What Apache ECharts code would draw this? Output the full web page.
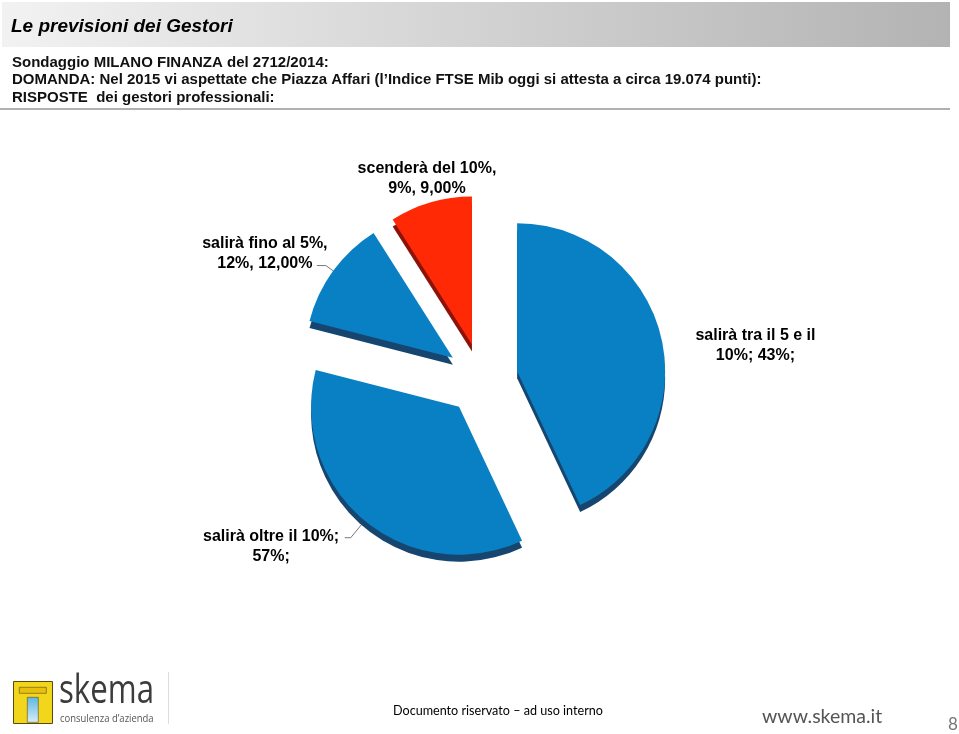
<!DOCTYPE html>
<html>
<head>
<meta charset="utf-8">
<script src="https://cdn.jsdelivr.net/npm/echarts@6/dist/echarts.min.js"></script>
<style>
html,body{margin:0;padding:0;background:#fff;}
#chart{width:959px;height:734px;}
</style>
</head>
<body>
<div id="chart"></div>
<script>
// ---- data ----
const categories = [
  "salirà tra il 5 e il 10%",
  "salirà oltre il 10%",
  "salirà fino al 5%",
  "scenderà del 10%"
];
const values = [43, 36, 12, 9];
const labelLines1 = ["salirà tra il 5 e il", "salirà oltre il 10%;", "salirà fino al 5%,", "scenderà del 10%,"];
const labelLines2 = ["10%; 43%;", "57%;", "12%, 12,00%", "9%, 9,00%"];
const titleText = "Le previsioni dei Gestori";
const headerLines = [
  "Sondaggio MILANO FINANZA del 2712/2014:",
  "DOMANDA: Nel 2015 vi aspettate che Piazza Affari (l\u2019Indice FTSE Mib oggi si attesta a circa 19.074 punti):",
  "RISPOSTE  dei gestori professionali:"
];

// ---- styles (label placement tuning) ----
const sliceColors = ['#0a80c4', '#0a80c4', '#0a80c4', '#ff2a05'];
const sideColors = ['#16466f', '#16466f', '#16466f', '#8c1309'];
const boxW = [130, 140, 130, 140];
const len1 = [5, 22, 9, 24];
const len2 = [20, 6, 9, 0];
const dist = [4, 3.6, -13, -73];
const pads = [[16, 0, 0, 0], [17, 0, 0, 0], [0, 0, 23, 0], [0, 0, 2, 0]];
const showLine = [false, true, true, false];

const chart = echarts.init(document.getElementById('chart'), null, {renderer: 'canvas'});

const data = categories.map((c, i) => ({
  name: c,
  value: values[i],
  selected: true,
  itemStyle: {
    color: sliceColors[i],
    shadowColor: sideColors[i],
    shadowBlur: 0,
    shadowOffsetX: 0,
    shadowOffsetY: 7
  },
  label: {
    formatter: '{a|' + labelLines1[i] + '}\n{a|' + labelLines2[i] + '}',
    distanceToLabelLine: dist[i],
    padding: pads[i],
    rich: {
      a: {
        width: boxW[i], align: 'center',
        fontFamily: '"Liberation Sans", Arial, sans-serif',
        fontWeight: 'bold', fontSize: 16, lineHeight: 20, color: '#000'
      }
    }
  },
  labelLine: {show: showLine[i], length: len1[i], length2: len2[i]}
}));

const graphics = [
  {
    type: 'rect', left: 2, top: 2, z: -1,
    shape: {width: 948, height: 45},
    style: {
      fill: new echarts.graphic.LinearGradient(0, 0, 1, 0, [
        {offset: 0, color: '#f2f2f2'},
        {offset: 1, color: '#b3b3b3'}
      ])
    }
  },
  {
    type: 'text', left: 11, top: 17,
    style: {text: titleText, font: 'italic bold 19px "Liberation Sans", Arial, sans-serif', fill: '#000'}
  },
  {
    type: 'rect', left: 0, top: 108,
    shape: {width: 950, height: 2},
    style: {fill: '#b0b0b0'}
  },
  // footer logo (simplified)
  {
    type: 'rect', left: 13, top: 681,
    shape: {width: 39, height: 42},
    style: {fill: '#f2d61c', stroke: '#5a4a10', lineWidth: 1}
  },
  {
    type: 'rect', left: 19, top: 687,
    shape: {width: 27, height: 6},
    style: {fill: '#e8c010', stroke: '#5a4a10', lineWidth: 0.6}
  },
  {
    type: 'rect', left: 27, top: 697,
    shape: {width: 11, height: 25},
    style: {
      fill: new echarts.graphic.LinearGradient(0, 0, 0, 1, [
        {offset: 0, color: '#5fb6e0'},
        {offset: 1, color: '#d8eef8'}
      ]),
      stroke: '#5a4a10', lineWidth: 0.6
    }
  },
  {
    type: 'text', x: 59, y: 672, scaleX: 0.78,
    style: {text: 'skema', font: '40px "Open Sans", sans-serif', fill: '#3c3c3c'}
  },
  {
    type: 'text', x: 60, y: 713, scaleX: 0.86,
    style: {text: 'consulenza d\u2019azienda', font: '11px "Open Sans", sans-serif', fill: '#555'}
  },
  {
    type: 'rect', left: 168, top: 672,
    shape: {width: 1, height: 52},
    style: {fill: '#dddddd'}
  },
  {
    type: 'text', left: 393, top: 704,
    style: {text: 'Documento riservato \u2013 ad uso interno', font: '12.6px Lato, sans-serif', fill: '#000'}
  },
  {
    type: 'text', left: 762, top: 707,
    style: {text: 'www.skema.it', font: '19.5px Lato, sans-serif', fill: '#555'}
  },
  {
    type: 'text', left: 948, top: 716,
    style: {text: '8', font: '17px Lato, sans-serif', fill: '#777'}
  }
];

headerLines.forEach((t, i) => {
  graphics.push({
    type: 'text', left: 12, top: 55 + i * 17.5,
    style: {text: t, font: 'bold 15px "Liberation Sans", Arial, sans-serif', fill: '#111'}
  });
});

chart.setOption({
  animation: false,
  backgroundColor: '#ffffff',
  graphic: graphics,
  series: [{
    type: 'pie',
    center: [482, 379],
    radius: 148,
    startAngle: 90,
    clockwise: true,
    selectedMode: 'multiple',
    selectedOffset: 36,
    avoidLabelOverlap: false,
    emphasis: {disabled: true},
    label: {
      show: true,
      position: 'outside',
      color: '#000'
    },
    labelLine: {
      show: true,
      lineStyle: {color: '#777', width: 1}
    },
    data: data
  }]
});
</script>
</body>
</html>
